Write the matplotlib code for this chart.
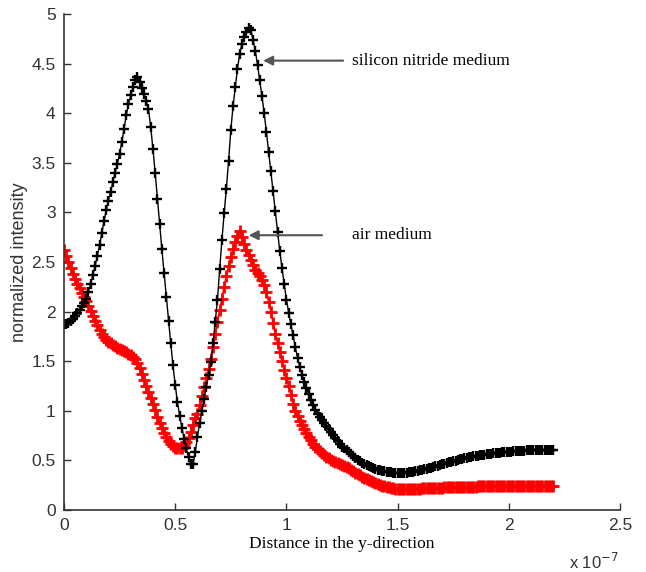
import matplotlib
matplotlib.use("Agg")
import matplotlib.pyplot as plt
import numpy as np
from matplotlib.ticker import FormatStrFormatter

# distance in units of 1e-7, sampled every 0.01
distance = np.arange(221) * 0.01

silicon_nitride = [
    1.87, 1.88, 1.89, 1.91, 1.93, 1.96, 1.99, 2.02, 2.06, 2.09,
    2.13, 2.20, 2.28, 2.37, 2.46, 2.56, 2.67, 2.79, 2.91, 3.02,
    3.12, 3.21, 3.31, 3.40, 3.49, 3.59, 3.71, 3.84, 3.98, 4.09,
    4.18, 4.26, 4.33, 4.36, 4.31, 4.25, 4.19, 4.12, 4.04, 3.86,
    3.64, 3.40, 3.14, 2.88, 2.63, 2.39, 2.15, 1.91, 1.68, 1.46,
    1.26, 1.09, 0.95, 0.83, 0.72, 0.62, 0.53, 0.46, 0.46, 0.58,
    0.74, 0.88, 1.00, 1.12, 1.24, 1.36, 1.49, 1.68, 1.90, 2.12,
    2.43, 2.72, 2.99, 3.24, 3.52, 3.83, 4.07, 4.26, 4.45, 4.60,
    4.70, 4.77, 4.82, 4.86, 4.84, 4.74, 4.63, 4.49, 4.33, 4.17,
    4.00, 3.81, 3.61, 3.42, 3.22, 3.01, 2.80, 2.61, 2.44, 2.28,
    2.12, 1.99, 1.87, 1.76, 1.64, 1.53, 1.44, 1.36, 1.29, 1.23,
    1.17, 1.11, 1.06, 1.01, 0.97, 0.94, 0.91, 0.88, 0.85, 0.82,
    0.79, 0.76, 0.73, 0.70, 0.67, 0.64, 0.62, 0.60, 0.58, 0.56,
    0.54, 0.52, 0.50, 0.49, 0.47, 0.46, 0.45, 0.44, 0.43, 0.42,
    0.41, 0.40, 0.40, 0.39, 0.39, 0.38, 0.38, 0.38, 0.37, 0.37,
    0.37, 0.37, 0.37, 0.37, 0.37, 0.38, 0.38, 0.38, 0.39, 0.39,
    0.40, 0.40, 0.41, 0.41, 0.42, 0.42, 0.43, 0.44, 0.44, 0.45,
    0.46, 0.46, 0.47, 0.48, 0.48, 0.49, 0.49, 0.50, 0.51, 0.51,
    0.52, 0.52, 0.53, 0.53, 0.54, 0.54, 0.54, 0.55, 0.55, 0.55,
    0.56, 0.56, 0.56, 0.57, 0.57, 0.57, 0.57, 0.58, 0.58, 0.58,
    0.58, 0.58, 0.59, 0.59, 0.59, 0.59, 0.59, 0.59, 0.60, 0.60,
    0.60, 0.60, 0.60, 0.60, 0.60, 0.60, 0.60, 0.60, 0.60, 0.60,
    0.60,
]

air = [
    2.62, 2.56, 2.50, 2.44, 2.38, 2.33, 2.28, 2.24, 2.19, 2.15,
    2.11, 2.06, 2.01, 1.96, 1.91, 1.86, 1.81, 1.77, 1.74, 1.71,
    1.69, 1.68, 1.66, 1.65, 1.63, 1.62, 1.61, 1.60, 1.59, 1.57,
    1.56, 1.54, 1.52, 1.48, 1.43, 1.37, 1.31, 1.25, 1.19, 1.13,
    1.07, 1.01, 0.94, 0.88, 0.83, 0.78, 0.74, 0.70, 0.67, 0.65,
    0.63, 0.62, 0.62, 0.63, 0.66, 0.69, 0.73, 0.79, 0.86, 0.93,
    0.97, 1.06, 1.15, 1.24, 1.33, 1.42, 1.52, 1.64, 1.77, 1.90,
    2.02, 2.13, 2.25, 2.36, 2.46, 2.55, 2.63, 2.70, 2.76, 2.81,
    2.75, 2.68, 2.62, 2.57, 2.52, 2.47, 2.42, 2.39, 2.36, 2.32,
    2.27, 2.20, 2.10, 2.00, 1.89, 1.77, 1.68, 1.59, 1.50, 1.41,
    1.33, 1.25, 1.16, 1.07, 1.00, 0.95, 0.90, 0.86, 0.82, 0.78,
    0.74, 0.71, 0.67, 0.64, 0.61, 0.59, 0.57, 0.55, 0.53, 0.52,
    0.50, 0.49, 0.48, 0.47, 0.46, 0.45, 0.44, 0.43, 0.42, 0.40,
    0.39, 0.37, 0.36, 0.35, 0.33, 0.32, 0.31, 0.30, 0.29, 0.28,
    0.27, 0.26, 0.25, 0.24, 0.24, 0.23, 0.23, 0.22, 0.22, 0.21,
    0.21, 0.21, 0.21, 0.21, 0.21, 0.21, 0.21, 0.21, 0.21, 0.21,
    0.21, 0.22, 0.22, 0.22, 0.22, 0.22, 0.22, 0.22, 0.22, 0.22,
    0.22, 0.23, 0.23, 0.23, 0.23, 0.23, 0.23, 0.23, 0.23, 0.23,
    0.23, 0.23, 0.23, 0.23, 0.23, 0.23, 0.24, 0.24, 0.24, 0.24,
    0.24, 0.24, 0.24, 0.24, 0.24, 0.24, 0.24, 0.24, 0.24, 0.24,
    0.24, 0.24, 0.24, 0.24, 0.24, 0.24, 0.24, 0.24, 0.24, 0.24,
    0.24, 0.24, 0.24, 0.24, 0.24, 0.24, 0.24, 0.24, 0.24, 0.24,
    0.24,
]

x_ticks = [0, 0.5, 1, 1.5, 2, 2.5]
y_ticks = [0, 0.5, 1, 1.5, 2, 2.5, 3, 3.5, 4, 4.5, 5]

plt.rcParams["font.family"] = "Liberation Sans"
axis_grey = "#333333"

f = plt.figure(figsize=(6.46, 5.72), dpi=100)
ax = f.add_axes([0.099, 0.1084, 0.861, 0.8671])

ax.plot(distance, air, color="#ff0000", marker="+", markersize=8.5,
        markeredgewidth=2.0, lw=1.2)
ax.plot(distance, silicon_nitride, color="black", marker="+", markersize=7.5,
        markeredgewidth=1.7, lw=1.0)

ax.set_xlim(0, 2.5)
ax.set_ylim(0, 5)
ax.set_xticks(x_ticks)
ax.set_yticks(y_ticks)
ax.xaxis.set_major_formatter(FormatStrFormatter("%g"))
ax.yaxis.set_major_formatter(FormatStrFormatter("%g"))
ax.tick_params(direction="in", length=5, width=1, colors=axis_grey,
               labelsize=12.5, pad=6)
ax.spines["top"].set_visible(False)
ax.spines["right"].set_visible(False)
for s in ("left", "bottom"):
    ax.spines[s].set_color(axis_grey)
    ax.spines[s].set_linewidth(1.2)

ax.set_ylabel("normalized intensity", fontsize=13, color=axis_grey,
              labelpad=2)
ax.set_xlabel("Distance in the y-direction", family="Liberation Serif",
              fontsize=12.5, color="black", labelpad=2)
ax.text(0.997, -0.105, r"x 10$^{-7}$", transform=ax.transAxes,
        ha="right", va="center", fontsize=12, color=axis_grey)

arrow = dict(arrowstyle="-|>", color="#555555", lw=1.5,
             mutation_scale=14, shrinkA=0, shrinkB=0)
ax.annotate("", xy=(0.895, 4.53), xytext=(1.255, 4.53), arrowprops=arrow)
ax.text(1.295, 4.53, "silicon nitride medium", family="Liberation Serif",
        fontsize=12.5, va="center", ha="left")
ax.annotate("", xy=(0.83, 2.77), xytext=(1.16, 2.77), arrowprops=arrow)
ax.text(1.295, 2.77, "air medium", family="Liberation Serif",
        fontsize=12.5, va="center", ha="left")

f.savefig("out.png", dpi=100)
